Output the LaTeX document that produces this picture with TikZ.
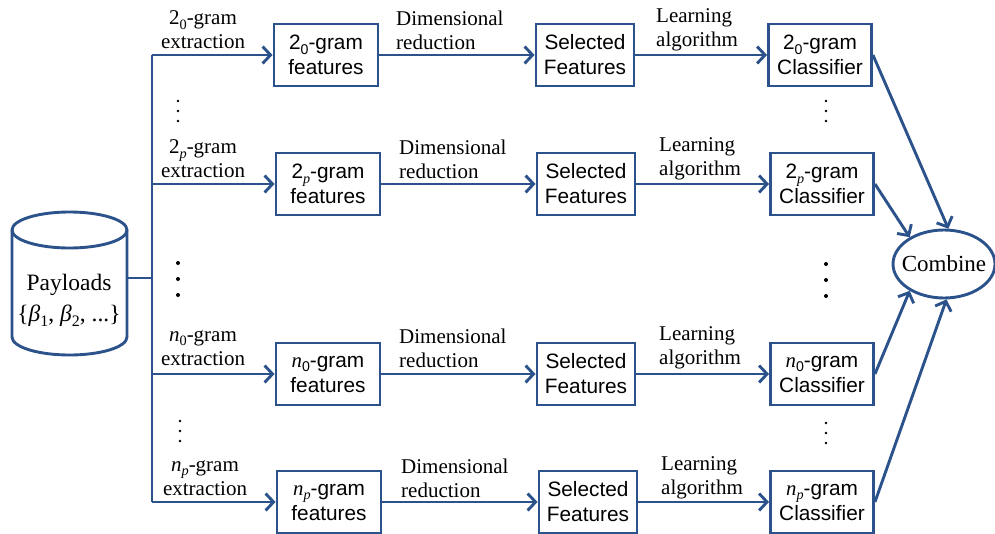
\documentclass[tikz,border=0pt]{standalone}
\usepackage{fontspec}
\setmainfont{Liberation Serif}
\newfontfamily\arial{Liberation Sans}
\usetikzlibrary{arrows.meta,shapes.geometric}
\definecolor{navy}{RGB}{44,82,140}
% lowered small index, as in 2_0 or n_p
\newcommand\lsub[1]{\raisebox{-0.45ex}{\scalebox{0.68}{#1}}}
\newcommand\ital[1]{{\rmfamily\itshape #1}}

\begin{document}
\begin{tikzpicture}[x=1pt,y=-1pt,
  box/.style={draw=navy,line width=2.9pt,minimum width=104pt,minimum height=62pt,
    align=center,font=\arial\fontsize{20.8}{25}\selectfont,inner sep=0pt,fill=white},
  lblc/.style={align=center,font=\fontsize{21}{24}\selectfont,inner sep=0pt},
  lbll/.style={align=left,font=\fontsize{21}{24}\selectfont,inner sep=0pt,anchor=west},
  link/.style={draw=navy,line width=2.9pt,-{Straight Barb[length=8pt,width=17pt,line width=2.9pt]}},
  trunk/.style={draw=navy,line width=2.9pt},
  dot/.style={fill=black,draw=none,circle,inner sep=0pt,minimum size=#1},
  dot/.default=2.6pt]
\useasboundingbox (0,0) rectangle (995,533);

% payload store (cylinder)
\draw[navy,line width=2.9pt,fill=white]
  (12,230) -- (12,337) arc[start angle=180,end angle=360,x radius=57.5pt,y radius=18pt]
  -- (127,230) arc[start angle=0,end angle=180,x radius=57.5pt,y radius=18pt] -- cycle;
\draw[navy,line width=2.9pt] (12,230) arc[start angle=180,end angle=360,x radius=57.5pt,y radius=18pt];
\node[font=\fontsize{23.5}{31}\selectfont,align=center,inner sep=0pt] (store) at (69,300)
  {Payloads\\\{\ital{β}\lsub{1}, \ital{β}\lsub{2}, ...\}};
\coordinate (storeout) at (127,278);
\coordinate (split) at (152,278);
\coordinate (t1) at (152,55);
\coordinate (t4) at (152,502);

% row 1
\node[box] (f1) at (326,55) {2\lsub{0}-gram\\features};
\node[box,minimum width=98pt] (s1) at (585,55) {Selected\\Features};
\node[box,minimum width=103pt] (c1) at (820,55) {2\lsub{0}-gram\\Classifier};
% row 2
\node[box] (f2) at (328,184) {2\lsub{\ital{p}}-gram\\features};
\node[box,minimum width=98pt] (s2) at (586,184) {Selected\\Features};
\node[box,minimum width=103pt] (c2) at (822,184) {2\lsub{\ital{p}}-gram\\Classifier};
% row 3
\node[box] (f3) at (328,374) {\ital{n}\lsub{0}-gram\\features};
\node[box,minimum width=98pt] (s3) at (586,374) {Selected\\Features};
\node[box,minimum width=103pt] (c3) at (822,374) {\ital{n}\lsub{0}-gram\\Classifier};
% row 4
\node[box] (f4) at (329,502) {\ital{n}\lsub{\ital{p}}-gram\\features};
\node[box,minimum width=98pt] (s4) at (588,502) {Selected\\Features};
\node[box,minimum width=103pt] (c4) at (822,502) {\ital{n}\lsub{\ital{p}}-gram\\Classifier};

\node[draw=navy,line width=2.9pt,ellipse,minimum width=102pt,minimum height=68pt,
  inner xsep=-7pt,inner ysep=0pt,font=\fontsize{23}{26}\selectfont] (comb) at (944,264) {Combine};

% distribution trunk
\draw[trunk] (storeout) -- (split);
\draw[trunk] (t1) -- (t4);
\draw[link] (t1) -- (f1.west);
\draw[link] (152,184) -- (f2.west);
\draw[link] (152,374) -- (f3.west);
\draw[link] (t4) -- (f4.west);

% pipelines
\foreach \i in {1,2,3,4}{
  \draw[link] (f\i.east) -- (s\i.west);
  \draw[link] (s\i.east) -- (c\i.west);
}
\draw[link] (c1.east) -- (comb.83);
\draw[link] (c2.east) -- (comb.142);
\draw[link] (c3.east) -- (comb.218);
\draw[link] (c4.east) -- (comb.274);

% labels
\node[lblc] at (203,30) {2\lsub{0}-gram\\extraction};
\node[lblc] at (203,159) {2\lsub{\ital{p}}-gram\\extraction};
\node[lblc] at (203,348) {\ital{n}\lsub{0}-gram\\extraction};
\node[lblc] at (205,478) {\ital{n}\lsub{\ital{p}}-gram\\extraction};
\node[lbll] at (396,30) {Dimensional\\reduction};
\node[lbll] at (399,159) {Dimensional\\reduction};
\node[lbll] at (399,348) {Dimensional\\reduction};
\node[lbll] at (401,478) {Dimensional\\reduction};
\node[lbll] at (656,30) {Learning\\algorithm};
\node[lbll] at (659,159) {Learning\\algorithm};
\node[lbll] at (659,348) {Learning\\algorithm};
\node[lbll] at (661,478) {Learning\\algorithm};

% elision dots
\foreach \y in {101,111,121} \node[dot] at (178,\y) {};
\foreach \y in {263,279,295} \node[dot=4pt] at (178,\y) {};
\foreach \y in {421,431,441} \node[dot] at (180,\y) {};
\foreach \y in {101,111,121} \node[dot] at (826,\y) {};
\foreach \y in {264,280,296} \node[dot=4pt] at (826,\y) {};
\foreach \y in {423,433,443} \node[dot] at (826,\y) {};
\end{tikzpicture}
\end{document}
